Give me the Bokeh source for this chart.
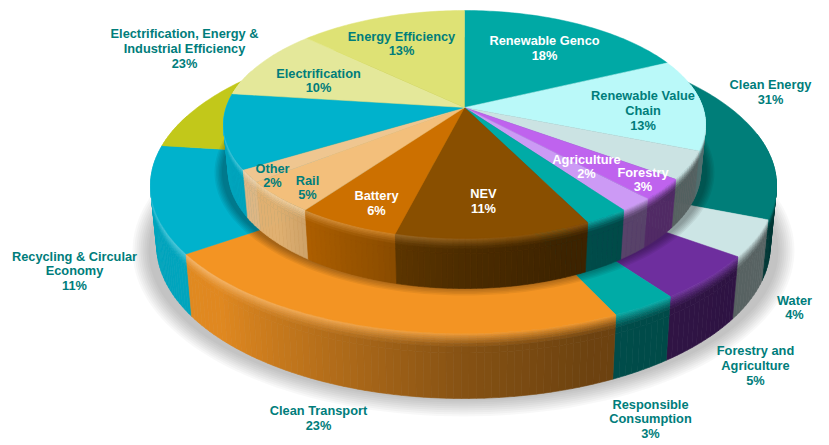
import numpy as np
from bokeh.plotting import figure
from bokeh.models import ColumnDataSource
from bokeh.core.properties import value
from bokeh.embed import file_html
from bokeh.resources import INLINE

# ---------- data ----------
inner_names = ["Renewable Genco", "Renewable Value Chain", "Water (inner)", "Forestry", "Agriculture",
               "Responsible (inner)", "NEV", "Battery", "Rail", "Other", "Recycling (inner)",
               "Electrification", "Energy Efficiency"]
inner_shares = [18, 13, 4, 3, 2, 2.6, 11.4, 6, 4.6, 1.8, 10.6, 10, 13]
inner_colors = ["#00A9A5", "#BAF9F9", "#CBE3E3", "#BF63EE", "#CC9AF5", "#00ABA6", "#894F00",
                "#CC7000", "#F3BF7B", "#EFC690", "#00B2CC", "#E4E89A", "#DEE275"]

outer_names = ["Clean Energy", "Water", "Forestry and Agriculture", "Responsible Consumption",
               "Clean Transport", "Recycling & Circular Economy", "Electrification, Energy & Industrial Efficiency"]
outer_shares = [31, 4, 5, 3, 22.3, 11.7, 23]
outer_colors = ["#007E79", "#CCE5E5", "#6E2E9E", "#00ABA6", "#F39423", "#00B2CC", "#C2C81A"]

TEAL = "#007D7B"
WHITE = "#FFFFFF"
label_lines = [
    ("Renewable Genco", 544, 40, WHITE), ("18%", 544, 55, WHITE),
    ("Renewable Value", 642.5, 95, TEAL), ("Chain", 642.5, 110, TEAL), ("13%", 642.5, 125, TEAL),
    ("Energy Efficiency", 401, 36, TEAL), ("13%", 401, 50, TEAL),
    ("Electrification", 318, 73, TEAL), ("10%", 318, 87, TEAL),
    ("Other", 272, 168, TEAL), ("2%", 272, 182, TEAL),
    ("Rail", 307, 179.5, TEAL), ("5%", 307, 194, TEAL),
    ("Battery", 376, 195, WHITE), ("6%", 376, 210, WHITE),
    ("NEV", 483, 193, WHITE), ("11%", 483, 208, WHITE),
    ("Agriculture", 586, 159, WHITE), ("2%", 586, 173, WHITE),
    ("Forestry", 642.5, 172, WHITE), ("3%", 642.5, 186, WHITE),
    ("Clean Energy", 770, 84, TEAL), ("31%", 770, 99, TEAL),
    ("Electrification, Energy &", 184, 33, TEAL), ("Industrial Efficiency", 184, 48, TEAL), ("23%", 184, 63, TEAL),
    ("Recycling & Circular", 74, 256, TEAL), ("Economy", 74, 270, TEAL), ("11%", 74, 285, TEAL),
    ("Clean Transport", 318, 410, TEAL), ("23%", 318, 425, TEAL),
    ("Responsible", 650, 404, TEAL), ("Consumption", 650, 418, TEAL), ("3%", 650, 433, TEAL),
    ("Forestry and", 755, 350, TEAL), ("Agriculture", 755, 365, TEAL), ("5%", 755, 380, TEAL),
    ("Water", 794, 300, TEAL), ("4%", 794, 314, TEAL),
]

# ---------- geometry (reference pixel space) ----------
K = 0.149
INNER = dict(cx=464.0, cy=124.0, rx=241.0, ry=114.0, h0=47.0, h1=3.0)
OUTER = dict(cx=463.0, cy=185.0, rx=313.0, ry=148.0, h0=60.0, h1=5.0)


def unit(theta_deg):
    t = np.radians(theta_deg)
    X, Y = np.sin(t), np.cos(t)
    d = 1 + K * Y
    return X * np.sqrt(1 - K * K) / d, (Y + K) / d


def top_pt(g, theta):
    u, v = unit(theta)
    return g["cx"] + u * g["rx"], g["cy"] - v * g["ry"]


def rim_pt(g, theta, t):
    u, v = unit(theta)
    x, y = g["cx"] + u * g["rx"], g["cy"] - v * g["ry"]
    h = g["h0"] - g["h1"] * v
    return g["cx"] + u * g["rx"] * (1 - 0.02 * t), y + h * t


def rgb(c):
    return np.array([int(c[i:i + 2], 16) for i in (1, 3, 5)], dtype=float)


def hexc(a):
    a = np.clip(a, 0, 255).round().astype(int)
    return "#%02X%02X%02X" % tuple(a)


def shade(theta):
    return np.interp(theta, [90, 130, 160, 180, 200, 225, 250, 285],
                     [.46, .42, .45, .55, .72, .92, .93, .93])


def hilite(theta):
    return np.interp(theta, [90, 170, 230, 285], [0, .06, .34, .2])


BANDS = [0, .025, .05, .08, .11, .15, .2, .3, 1]
BEVEL = 0.22


def wedge_lists(shares, colors, g):
    edges = np.cumsum([0] + list(shares)) * 3.6
    xs, ys, cs = [], [], []
    ax, ay = g["cx"], g["cy"] - K * g["ry"]
    for a, b, c in zip(edges[:-1], edges[1:], colors):
        th = np.linspace(a, b, max(3, int(b - a) + 2))
        px, py = top_pt(g, th)
        xs.append([ax] + list(px))
        ys.append([ay] + list(py))
        cs.append(c)
    return xs, ys, cs


def rim_lists(shares, colors, g):
    edges = np.cumsum([0] + list(shares)) * 3.6
    quads = []
    for a, b, c in zip(edges[:-1], edges[1:], colors):
        a2, b2 = max(a, 78), min(b, 290)
        if b2 <= a2:
            continue
        n = max(1, int((b2 - a2) / 1.2))
        th = np.linspace(a2, b2, n + 1)
        face = rgb(c)
        for t0, t1 in zip(th[:-1], th[1:]):
            mid = (t0 + t1) / 2
            base = face * shade(mid)
            lit = face + (255 - face) * hilite(mid)
            for b0, b1 in zip(BANDS[:-1], BANDS[1:]):
                bm = (b0 + b1) / 2
                w = max(0.0, 1 - bm / BEVEL) ** 1.3
                col = base + (lit - base) * w
                x00, y00 = rim_pt(g, t0, b0)
                x10, y10 = rim_pt(g, t1, b0)
                x11, y11 = rim_pt(g, t1, b1)
                x01, y01 = rim_pt(g, t0, b1)
                quads.append((abs(mid - 180), [x00, x10, x11, x01], [y00, y10, y11, y01], hexc(col)))
    quads.sort(key=lambda q: -q[0])
    return [q[1] for q in quads], [q[2] for q in quads], [q[3] for q in quads]


def halo(g, drop, grow, steps, alpha, color, p):
    th = np.linspace(0, 360, 181)
    for i in range(steps, 0, -1):
        e = grow * i / steps
        u, v = unit(th)
        x = g["cx"] + u * (g["rx"] + e)
        y = g["cy"] + g["h0"] + drop - v * (g["ry"] + e)
        p.patch(x, y, fill_color=color, fill_alpha=alpha, line_color=None)


p = figure(width=829, height=445, x_range=(0, 829), y_range=(445, 0),
           output_backend="svg", toolbar_location=None, min_border=0)
p.axis.visible = False
p.grid.visible = False
p.outline_line_color = None
p.background_fill_color = "#FFFFFF"
p.border_fill_color = "#FFFFFF"

# ground shadow
halo(OUTER, 5, 18, 9, 0.028, "#000000", p)

for shares, colors, g in [(outer_shares, outer_colors, OUTER), (inner_shares, inner_colors, INNER)]:
    rx, ry, rc = rim_lists(shares, colors, g)
    p.patches(rx, ry, fill_color=rc, line_color=rc, line_width=0.6)
    wx, wy, wc = wedge_lists(shares, colors, g)
    p.patches(wx, wy, fill_color=wc, line_color=wc, line_width=0.5)
    if g is OUTER:
        # soft contact shadow of the upper disc on the lower disc
        halo(INNER, 1, 9, 6, 0.06, "#000000", p)

src = ColumnDataSource(dict(
    text=[l[0] for l in label_lines], x=[l[1] for l in label_lines],
    y=[l[2] for l in label_lines], color=[l[3] for l in label_lines]))
p.text("x", "y", text="text", source=src, text_color="color",
       text_font=value("Liberation Sans"), text_font_style="bold", text_font_size="12.8px",
       text_align="center", text_baseline="middle")

open("out.html", "w").write(file_html(p, INLINE))
